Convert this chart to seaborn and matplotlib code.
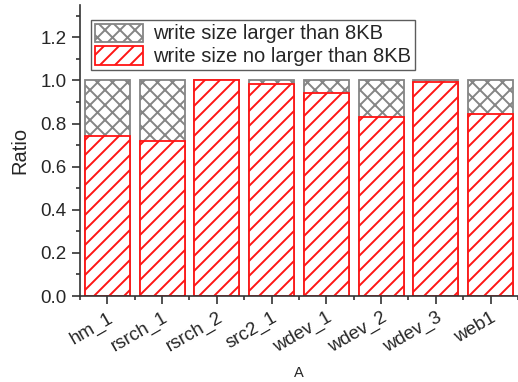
import matplotlib
matplotlib.use("Agg")
import matplotlib.pyplot as plt
from matplotlib.ticker import MultipleLocator, FixedLocator
import seaborn as sns
import pandas as pd

# Share of writes per trace, split at 8KB
traces = ["hm_1", "rsrch_1", "rsrch_2", "src2_1", "wdev_1", "wdev_2", "wdev_3", "web1"]
small_ratio = [0.74, 0.72, 1.00, 0.985, 0.943, 0.831, 0.992, 0.842]
total_ratio = [1.0, 1.0, 1.0, 1.0, 1.0, 1.0, 1.0, 1.0]

df = pd.DataFrame({"trace": traces, "small": small_ratio, "total": total_ratio})

# Render at 90 dpi so the hatch grid comes out a little finer; sizes below
# are scaled so they keep their on-screen size.
DPI = 90
S = 100 / DPI

sns.set_style("ticks")
plt.rcParams["font.family"] = ["Liberation Sans", "DejaVu Sans"]
plt.rcParams["hatch.linewidth"] = 1.4 * S

fig = plt.figure(figsize=(518 / DPI, 382 / DPI), dpi=DPI)
ax = fig.add_axes([0.1544, 0.225, 0.8456, 0.762])

gray = "#858585"
red = "#ff1414"

sns.barplot(data=df, x="trace", y="total", color="white", edgecolor=gray,
            linewidth=1.3 * S, hatch="xx", width=0.82, ax=ax,
            label="write size larger than 8KB")
sns.barplot(data=df, x="trace", y="small", color="white", edgecolor=red,
            linewidth=1.3 * S, hatch="//", width=0.82, ax=ax,
            label="write size no larger than 8KB")

ax.set_xlim(-0.5, len(traces) - 0.5)
ax.set_ylim(0, 1.35)
ax.yaxis.set_major_locator(MultipleLocator(0.2))
ax.yaxis.set_minor_locator(MultipleLocator(0.1))
ax.xaxis.set_minor_locator(FixedLocator([i - 0.5 for i in range(len(traces) + 1)]))

for side in ["top", "right"]:
    ax.spines[side].set_visible(False)
for side in ["left", "bottom"]:
    ax.spines[side].set_color("#333333")
    ax.spines[side].set_linewidth(1.2 * S)

ax.tick_params(axis="both", which="major", direction="out", length=6 * S,
               width=1.2 * S, color="#333333", labelsize=13.5 * S, pad=3.5 * S)
ax.tick_params(axis="both", which="minor", direction="out", length=3 * S,
               width=1.2 * S, color="#333333")
ax.set_yticks([0, 0.2, 0.4, 0.6, 0.8, 1.0, 1.2])
ax.set_yticklabels(["0.0", "0.2", "0.4", "0.6", "0.8", "1.0", "1.2"])
plt.setp(ax.get_xticklabels(), rotation=30, ha="right", rotation_mode="anchor")

ax.set_ylabel("Ratio", fontsize=14.5 * S, labelpad=8 * S)
ax.set_xlabel("A", fontsize=10.5 * S, labelpad=7 * S)

leg = ax.legend(loc="upper left", bbox_to_anchor=(0.025, 0.95), fontsize=14.5 * S,
                frameon=True, fancybox=False, edgecolor="#333333",
                handlelength=2.4, handleheight=1.0, labelspacing=0.15,
                borderpad=0.2, handletextpad=0.5, borderaxespad=0)
leg.get_frame().set_linewidth(1.0 * S)

fig.savefig("out.png", dpi=DPI)
